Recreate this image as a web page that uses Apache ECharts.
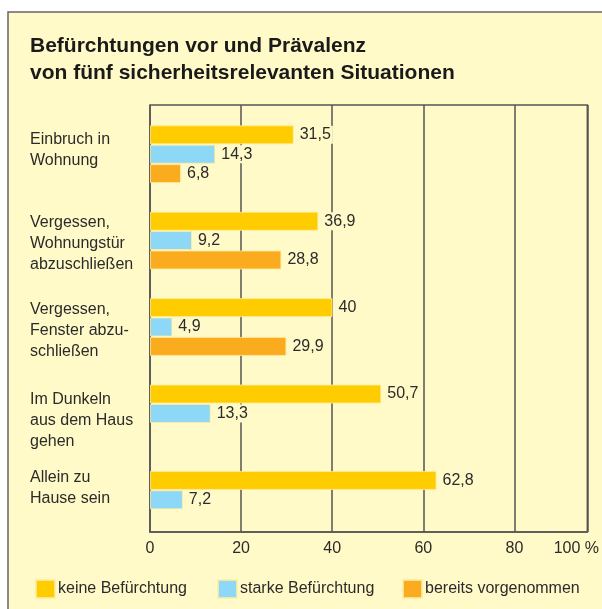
<!DOCTYPE html>
<html>
<head>
<meta charset="utf-8">
<script src="https://cdn.jsdelivr.net/npm/echarts@6/dist/echarts.min.js"></script>
<style>
  html, body { margin: 0; padding: 0; background: #fff; }
  #chart { width: 602px; height: 609px; }
</style>
</head>
<body>
<div id="chart"></div>
<script>
const situations = [
    'Einbruch in\nWohnung',
    'Vergessen,\nWohnungstür\nabzuschließen',
    'Vergessen,\nFenster abzu-\nschließen',
    'Im Dunkeln\naus dem Haus\ngehen',
    'Allein zu\nHause sein'
];
const keineBefuerchtung = [31.5, 36.9, 40, 50.7, 62.8];
const starkeBefuerchtung = [14.3, 9.2, 4.9, 13.3, 7.2];
const bereitsVorgenommen = [6.8, 28.8, 29.9, null, null];
const seriesNames = ['keine Befürchtung', 'starke Befürchtung', 'bereits vorgenommen'];
const xTicks = [0, 20, 40, 60, 80];

const FONT = '"Liberation Sans Narrow", "Liberation Sans", Arial, sans-serif';
const BG = '#FFFAC8';
const INK = '#2b2b2b';
const LINE = '#555';
// the category texts in the original are not exactly centred on their bars
const labelShift = [-4, 3, 4, 7, -12];

const chart = echarts.init(document.getElementById('chart'));

const barLabel = {
    show: true,
    position: 'right',
    distance: 4,
    color: INK,
    fontFamily: FONT,
    fontSize: 16,
    backgroundColor: BG,
    padding: [1, 2],
    formatter: p => String(p.value).replace('.', ',')
};

function barSeries(name, data) {
    return {
        name: name,
        type: 'bar',
        xAxisIndex: 1,
        yAxisIndex: 1,
        data: data,
        barWidth: 19,
        barGap: '2%',
        itemStyle: { borderColor: 'rgba(255,238,160,0.8)', borderWidth: 1 },
        label: barLabel
    };
}

function legendAt(left, name) {
    return {
        left: left,
        top: 574,
        data: [name],
        icon: 'rect',
        itemWidth: 19,
        itemHeight: 18,
        itemGap: 8,
        selectedMode: false,
        textStyle: { color: INK, fontFamily: FONT, fontSize: 16, padding: [0, 0, 0, -2] }
    };
}

// a spacer line above or below the text nudges it up or down
const labelRich = { t: { color: INK, fontFamily: FONT, fontSize: 16, lineHeight: 21 } };
labelShift.forEach((d, i) => {
    labelRich['g' + i] = { fontSize: 1, lineHeight: Math.max(1, Math.abs(d) * 2) };
});
function categoryLabel(value) {
    const i = situations.indexOf(value);
    const d = labelShift[i] || 0;
    const body = value.split('\n').map(l => '{t|' + l + '}').join('\n');
    if (d > 0) return '{g' + i + '| }\n' + body;
    if (d < 0) return body + '\n{g' + i + '| }';
    return body;
}

chart.setOption({
    animation: false,
    backgroundColor: '#fff',
    color: ['#FFCC00', '#8DD7F7', '#FBAC1E'],
    graphic: [
        {
            type: 'rect',
            z: -10,
            shape: { x: 8, y: 12, width: 620, height: 620 },
            style: { fill: BG, stroke: '#666', lineWidth: 1.5 }
        },
        {
            type: 'text',
            left: 30,
            top: 33,
            style: {
                text: 'Befürchtungen vor und Prävalenz\nvon fünf sicherheitsrelevanten Situationen',
                fill: '#1a1a1a',
                font: 'bold 21px ' + FONT,
                lineHeight: 27
            }
        }
    ],
    legend: [
        legendAt(30, seriesNames[0]),
        legendAt(212, seriesNames[1]),
        legendAt(397, seriesNames[2])
    ],
    // grid 0: frame, gridlines and x labels; grid 1: the bars and category labels
    grid: [
        {
            left: 150, top: 105, width: 438, height: 427,
            show: true, borderColor: LINE, borderWidth: 1.5, backgroundColor: 'transparent'
        },
        { left: 150, top: 111, width: 438, height: 432 }
    ],
    xAxis: [
        {
            gridIndex: 0,
            type: 'value',
            min: 0,
            max: 96,
            interval: 20,
            axisLine: { show: true, lineStyle: { color: LINE, width: 1.5 } },
            axisTick: { show: false },
            splitLine: { show: true, lineStyle: { color: LINE, width: 1.5 } },
            axisLabel: {
                margin: 9,
                color: INK,
                fontFamily: FONT,
                fontSize: 16,
                showMaxLabel: true,
                formatter: v => xTicks.includes(v) ? String(v) : '{m|100 %}',
                rich: { m: { color: INK, fontFamily: FONT, fontSize: 16, padding: [0, 22, 0, 0] } }
            }
        },
        {
            gridIndex: 1,
            type: 'value',
            min: 0,
            max: 96,
            show: false,
            splitLine: { show: false }
        }
    ],
    yAxis: [
        {
            gridIndex: 0,
            type: 'value',
            show: false,
            splitLine: { show: false }
        },
        {
            gridIndex: 1,
            type: 'category',
            inverse: true,
            data: situations,
            axisLine: { show: false },
            axisTick: { show: false },
            splitLine: { show: false },
            axisLabel: {
                align: 'left',
                margin: 120,
                color: INK,
                fontFamily: FONT,
                fontSize: 16,
                lineHeight: 21,
                formatter: categoryLabel,
                rich: labelRich
            }
        }
    ],
    series: [
        barSeries(seriesNames[0], keineBefuerchtung),
        barSeries(seriesNames[1], starkeBefuerchtung),
        barSeries(seriesNames[2], bereitsVorgenommen)
    ]
});
</script>
</body>
</html>
